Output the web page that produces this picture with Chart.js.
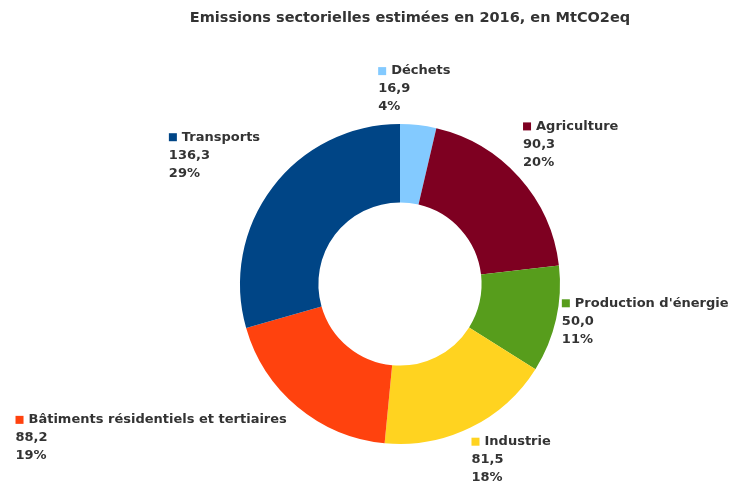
<!DOCTYPE html>
<html>
<head>
<meta charset="utf-8">
<script src="https://cdn.jsdelivr.net/npm/chart.js@4"></script>
<style>
  html, body { margin: 0; padding: 0; background: #fff; }
  #wrap { width: 740px; height: 486px; }
</style>
</head>
<body>
<div id="wrap"><canvas id="chart" width="740" height="486"></canvas></div>
<script>
const chartTitle = 'Emissions sectorielles estimées en 2016, en MtCO2eq';
const sectors = ['Déchets', 'Agriculture', "Production d'énergie", 'Industrie', 'Bâtiments résidentiels et tertiaires', 'Transports'];
const emissions = [16.9, 90.3, 50.0, 81.5, 88.2, 136.3];
const percents = ['4%', '20%', '11%', '18%', '19%', '29%'];
const colors = ['#83caff', '#7e0021', '#579d1c', '#ffd320', '#ff420e', '#004586'];

const FONT = 'bold 13px "DejaVu Sans", sans-serif';

// titre + etiquettes dessinés à la main (style LibreOffice)
const labelPlugin = {
  id: 'labels',
  afterDraw(chart) {
    const ctx = chart.ctx;
    ctx.save();
    ctx.fillStyle = '#333';
    ctx.font = 'bold 14.5px "DejaVu Sans", sans-serif';
    ctx.textAlign = 'center';
    ctx.textBaseline = 'middle';
    ctx.fillText(chartTitle, 410, 18);

    ctx.font = FONT;
    ctx.textAlign = 'left';
    const arcs = chart.getDatasetMeta(0).data;
    arcs.forEach((arc, i) => {
      const mid = (arc.startAngle + arc.endAngle) / 2;
      const r = arc.outerRadius + 9;
      const ax = arc.x + Math.cos(mid) * r;
      const ay = arc.y + Math.sin(mid) * r;
      const lines = [sectors[i], emissions[i].toFixed(1).replace('.', ','), percents[i]];
      const sq = 8, gap = 5, lh = 18;
      const w = sq + gap + Math.max(...lines.map(t => ctx.measureText(t).width));
      const h = lines.length * lh;
      const sx = Math.cos(mid), sy = Math.sin(mid);
      let left, top;
      if (sx > 0.3) left = ax - 3;
      else if (sx < -0.3) left = ax - 5 - w;
      else left = ax - w / 2 - 5;
      if (sy < -0.3) top = ay - h;
      else if (sy > 0.3) top = ay - 3;
      else top = ay - h / 2;
      ctx.fillStyle = colors[i];
      ctx.fillRect(left, top + lh / 2 - sq / 2, sq, sq);
      ctx.fillStyle = '#333';
      ctx.fillText(lines[0], left + sq + gap, top + lh / 2);
      ctx.fillText(lines[1], left, top + lh * 1.5);
      ctx.fillText(lines[2], left, top + lh * 2.5);
    });
    ctx.restore();
  }
};

new Chart(document.getElementById('chart'), {
  type: 'doughnut',
  data: {
    labels: sectors,
    datasets: [{
      data: emissions,
      backgroundColor: colors,
      borderWidth: 0,
      hoverOffset: 0
    }]
  },
  options: {
    responsive: false,
    animation: false,
    cutout: '51%',
    layout: { padding: { top: 124, bottom: 42, left: 230, right: 170 } },
    plugins: {
      legend: { display: false },
      title: { display: false },
      tooltip: { enabled: false }
    }
  },
  plugins: [labelPlugin]
});
</script>
</body>
</html>
